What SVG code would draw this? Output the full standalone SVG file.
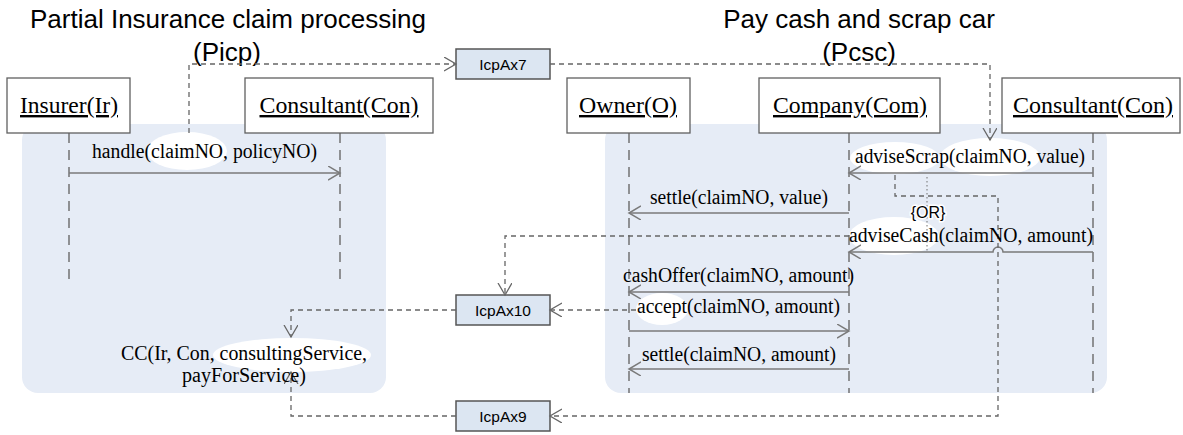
<svg xmlns="http://www.w3.org/2000/svg" width="1183" height="435" viewBox="0 0 1183 435">
<style>
.title{font-family:"Liberation Sans",Arial,sans-serif;font-size:26px;fill:#000;text-anchor:middle}
.part{fill:#fff;stroke:#606060;stroke-width:1.3}
.plabel{font-family:"Liberation Serif","Times New Roman",serif;font-size:24px;fill:#000;text-anchor:middle;text-decoration:underline}
.panel{fill:#e6ecf6;stroke:none}
.life{stroke:#6a6a6a;stroke-width:1.4;stroke-dasharray:10,7;fill:none}
.msg{stroke:#7a7a7a;stroke-width:1.5;fill:none;marker-end:url(#ah)}
.dash{stroke:#666;stroke-width:1.3;stroke-dasharray:5,4;fill:none}
.mtext{font-family:"Liberation Serif","Times New Roman",serif;font-size:20.5px;fill:#000}
.icp{fill:#dce6f2;stroke:#555;stroke-width:1.5}
.icpt{font-family:"Liberation Sans",Arial,sans-serif;font-size:15.5px;fill:#000;text-anchor:middle}
.blob{fill:#fff}
.or{font-family:"Liberation Sans",Arial,sans-serif;font-size:16px;fill:#000;text-anchor:middle;stroke:#fff;stroke-width:3;paint-order:stroke}
</style>
<defs>
<marker id="ah" markerUnits="userSpaceOnUse" markerWidth="14" markerHeight="16" refX="12" refY="7" orient="auto">
<path d="M0,0 L12,7 L0,14" fill="none" stroke="#7a7a7a" stroke-width="1.5" stroke-dasharray="none"/>
</marker>
<marker id="dh" markerUnits="userSpaceOnUse" markerWidth="14" markerHeight="16" refX="12" refY="7" orient="auto">
<path d="M0,0 L12,7 L0,14" fill="none" stroke="#666" stroke-width="1.3" stroke-dasharray="none"/>
</marker>
</defs>
<rect width="1183" height="435" fill="#fff"/>

<g id="titles">
<text class="title" x="228" y="28">Partial Insurance claim processing</text>
<text class="title" x="227" y="61">(Picp)</text>
<text class="title" x="859" y="28">Pay cash and scrap car</text>
<text class="title" x="859" y="61">(Pcsc)</text>
</g>

<g id="panel-picp"><rect class="panel" x="22" y="124" width="364" height="269" rx="16"/></g>
<g id="panel-pcsc"><rect class="panel" x="605" y="124" width="502" height="269" rx="16"/></g>

<g id="blobs">
<ellipse class="blob" cx="187" cy="151" rx="40" ry="19"/>
<ellipse class="blob" cx="895" cy="158" rx="45" ry="16"/>
<ellipse class="blob" cx="990" cy="157" rx="50" ry="19"/>
<ellipse class="blob" cx="894" cy="236" rx="45" ry="19"/>
<ellipse class="blob" cx="662" cy="309" rx="26" ry="16"/>
<ellipse class="blob" cx="292" cy="355" rx="79" ry="17"/>
</g>

<g id="lifelines">
<line class="life" x1="69" y1="133" x2="69" y2="284"/>
<line class="life" x1="340" y1="133" x2="340" y2="284"/>
<line class="life" x1="629" y1="133" x2="629" y2="393"/>
<line class="life" x1="849" y1="133" x2="849" y2="393"/>
<line class="life" x1="1093" y1="133" x2="1093" y2="393"/>
</g>

<g id="insurer"><rect class="part" x="7" y="78" width="123" height="55"/><text class="plabel" x="69" y="113" textLength="98" lengthAdjust="spacingAndGlyphs">Insurer(Ir)</text></g>
<g id="consultant-picp"><rect class="part" x="245" y="78" width="188" height="55"/><text class="plabel" x="339" y="113" textLength="159" lengthAdjust="spacingAndGlyphs">Consultant(Con)</text></g>
<g id="owner"><rect class="part" x="567" y="78" width="123" height="55"/><text class="plabel" x="628" y="113" textLength="98" lengthAdjust="spacingAndGlyphs">Owner(O)</text></g>
<g id="company"><rect class="part" x="759" y="78" width="181" height="55"/><text class="plabel" x="850" y="113" textLength="154" lengthAdjust="spacingAndGlyphs">Company(Com)</text></g>
<g id="consultant-pcsc"><rect class="part" x="1002" y="78" width="178" height="55"/><text class="plabel" x="1093" y="113" textLength="160" lengthAdjust="spacingAndGlyphs">Consultant(Con)</text></g>

<g id="icpax7"><rect class="icp" x="456" y="49" width="94" height="30"/><text class="icpt" x="503" y="69.5">IcpAx7</text></g>
<g id="icpax10"><rect class="icp" x="456" y="295" width="94" height="30"/><text class="icpt" x="503" y="315.5">IcpAx10</text></g>
<g id="icpax9"><rect class="icp" x="456" y="401" width="94" height="30"/><text class="icpt" x="503" y="421.5">IcpAx9</text></g>

<g id="connectors">
<path class="msg" d="M69,173 H340"/>
<path class="msg" d="M1093,173 H849"/>
<path class="msg" d="M849,213 H629"/>
<path class="msg" d="M1093,252 H1003 A5,5 0 0 0 993,252 H849"/>
<path class="msg" d="M849,292 H629"/>
<path class="msg" d="M629,331 H849"/>
<path class="msg" d="M849,369 H629"/>
<line x1="927" y1="177" x2="927" y2="252" stroke="#707070" stroke-width="1" stroke-dasharray="1.5,2.5"/>
<path class="dash" d="M189,133 V64 H456" marker-end="url(#dh)"/>
<path class="dash" d="M550,64 H990 V140" marker-end="url(#dh)"/>
<path class="dash" d="M895,175 V196 H998 V416 H550" marker-end="url(#dh)"/>
<path class="dash" d="M849,236 H505 V295" marker-end="url(#dh)"/>
<path class="dash" d="M636,310 H550" marker-end="url(#dh)"/>
<path class="dash" d="M456,310 H291 V337" marker-end="url(#dh)"/>
<path class="dash" d="M456,416 H291 V372" marker-end="url(#dh)"/>
</g>

<g id="labels">
<text class="mtext" x="92" y="158" textLength="225" lengthAdjust="spacingAndGlyphs">handle(claimNO, policyNO)</text>
<text class="mtext" x="855" y="163" textLength="230" lengthAdjust="spacingAndGlyphs">adviseScrap(claimNO, value)</text>
<text class="mtext" x="650" y="204" textLength="178" lengthAdjust="spacingAndGlyphs">settle(claimNO, value)</text>
<text class="or" x="928" y="218">{OR}</text>
<text class="mtext" x="849" y="242" textLength="244" lengthAdjust="spacingAndGlyphs">adviseCash(claimNO, amount)</text>
<text class="mtext" x="623" y="282" textLength="231" lengthAdjust="spacingAndGlyphs">cashOffer(claimNO, amount)</text>
<text class="mtext" x="637" y="313" textLength="203" lengthAdjust="spacingAndGlyphs">accept(claimNO, amount)</text>
<text class="mtext" x="642" y="361" textLength="194" lengthAdjust="spacingAndGlyphs">settle(claimNO, amount)</text>
<text class="mtext" x="121" y="360" textLength="246" lengthAdjust="spacingAndGlyphs">CC(Ir, Con, consultingService,</text>
<text class="mtext" x="182" y="382" textLength="124" lengthAdjust="spacingAndGlyphs">payForService)</text>
</g>
</svg>
